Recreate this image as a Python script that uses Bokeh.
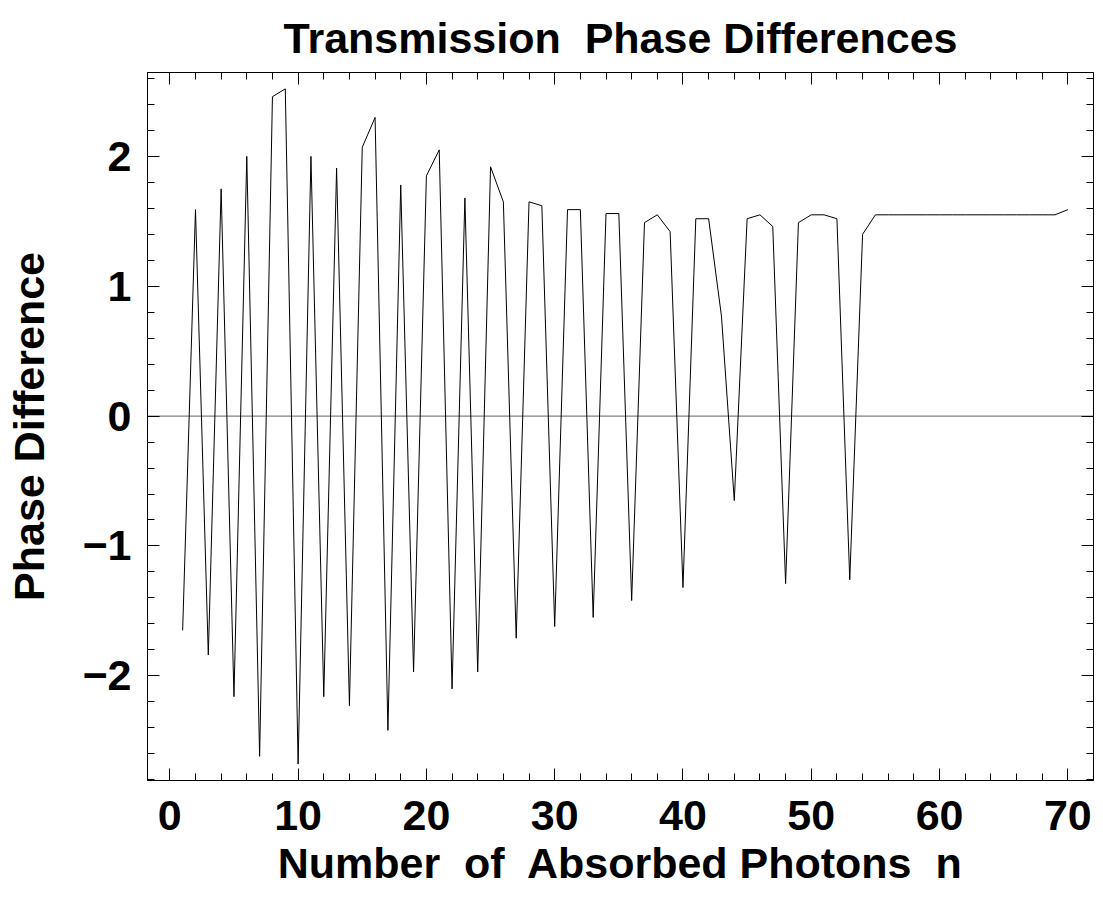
from bokeh.plotting import figure
from bokeh.models import Range1d, LinearAxis, FixedTicker, Span, Title
from bokeh.embed import file_html
from bokeh.resources import INLINE

# ---- data ----
n_photons = list(range(1, 71))
phase_diff = [
    -1.65, 1.59, -1.84, 1.75, -2.16, 2.00, -2.62, 2.46, 2.52, -2.68,
    2.00, -2.16, 1.91, -2.23, 2.07, 2.30, -2.42, 1.78, -1.97, 1.85,
    2.05, -2.10, 1.68, -1.97, 1.92, 1.65, -1.71, 1.65, 1.62, -1.62,
    1.59, 1.59, -1.55, 1.56, 1.56, -1.42, 1.49, 1.55, 1.42, -1.32,
    1.52, 1.52, 0.77, -0.65, 1.52, 1.55, 1.46, -1.29, 1.49, 1.55,
    1.55, 1.52, -1.26, 1.40,
    1.55, 1.55, 1.55, 1.55, 1.55, 1.55, 1.55, 1.55, 1.55, 1.55,
    1.55, 1.55, 1.55, 1.55, 1.55,
    1.59,
]

x_major_ticks = [0, 10, 20, 30, 40, 50, 60, 70]
x_minor_ticks = [-2, 0, 2, 4, 6, 8, 10, 12, 14, 16, 18, 20, 22, 24, 26, 28, 30, 32, 34,
                 36, 38, 40, 42, 44, 46, 48, 50, 52, 54, 56, 58, 60, 62, 64, 66, 68, 70, 72]
y_major_ticks = [-2, -1, 0, 1, 2]
y_minor_ticks = [-2.8, -2.6, -2.4, -2.2, -2.0, -1.8, -1.6, -1.4, -1.2, -1.0, -0.8, -0.6,
                 -0.4, -0.2, 0.0, 0.2, 0.4, 0.6, 0.8, 1.0, 1.2, 1.4, 1.6, 1.8, 2.0, 2.2,
                 2.4, 2.6]
y_tick_labels = {-2: "\u22122", -1: "\u22121", 0: "0", 1: "1", 2: "2"}

NB = "\u00a0"
title_text = "Transmission" + NB + " Phase Differences"
x_label = "Number" + NB + " of" + NB + " Absorbed Photons" + NB + " n"
y_label = "Phase Difference"

FONT = "Liberation Sans"

p = figure(
    frame_width=946, frame_height=708,
    x_range=Range1d(-1.74, 72.0), y_range=Range1d(-2.806, 2.646),
    output_backend="svg", toolbar_location=None,
    x_axis_location=None, y_axis_location=None,
    min_border_left=147, min_border_right=10, min_border_top=72, min_border_bottom=110,
)
p.background_fill_color = "white"
p.border_fill_color = "white"
p.xgrid.visible = False
p.ygrid.visible = False
p.outline_line_color = "black"
p.outline_line_width = 1

zero = Span(location=0, dimension="width", line_color="#808080", line_width=1.3, level="underlay")
p.add_layout(zero)

p.line(n_photons, phase_diff, line_color="black", line_width=1)


def style_axis(ax, show_labels):
    ax.major_tick_in = 12
    ax.major_tick_out = 0
    ax.minor_tick_in = 7
    ax.minor_tick_out = 0
    ax.axis_line_color = "black"
    ax.major_tick_line_color = "black"
    ax.minor_tick_line_color = "black"
    if show_labels:
        ax.major_label_text_font = FONT
        ax.major_label_text_font_style = "bold"
        ax.major_label_text_font_size = "43px"
        ax.major_label_text_color = "black"
        ax.axis_label_text_font = FONT
        ax.axis_label_text_font_style = "bold"
        ax.axis_label_text_font_size = "43px"
        ax.axis_label_text_color = "black"
    else:
        ax.major_label_text_font_size = "0px"
        ax.major_label_text_color = None
        ax.major_label_standoff = 0


xb = LinearAxis(ticker=FixedTicker(ticks=x_major_ticks, minor_ticks=x_minor_ticks), axis_label=x_label)
style_axis(xb, True)
xb.major_label_standoff = 20
xb.axis_label_standoff = 6
p.add_layout(xb, "below")

xt = LinearAxis(ticker=FixedTicker(ticks=x_major_ticks, minor_ticks=x_minor_ticks))
style_axis(xt, False)
p.add_layout(xt, "above")

yl = LinearAxis(ticker=FixedTicker(ticks=y_major_ticks, minor_ticks=y_minor_ticks), axis_label=y_label)
style_axis(yl, True)
yl.major_label_overrides = y_tick_labels
yl.major_label_standoff = 16
yl.axis_label_standoff = 26
p.add_layout(yl, "left")

yr = LinearAxis(ticker=FixedTicker(ticks=y_major_ticks, minor_ticks=y_minor_ticks))
style_axis(yr, False)
p.add_layout(yr, "right")

t = Title(text=title_text, align="center", text_font=FONT, text_font_style="bold",
          text_font_size="43px", text_color="black", standoff=22)
p.add_layout(t, "above")

open("out.html", "w").write(file_html(p, INLINE))
